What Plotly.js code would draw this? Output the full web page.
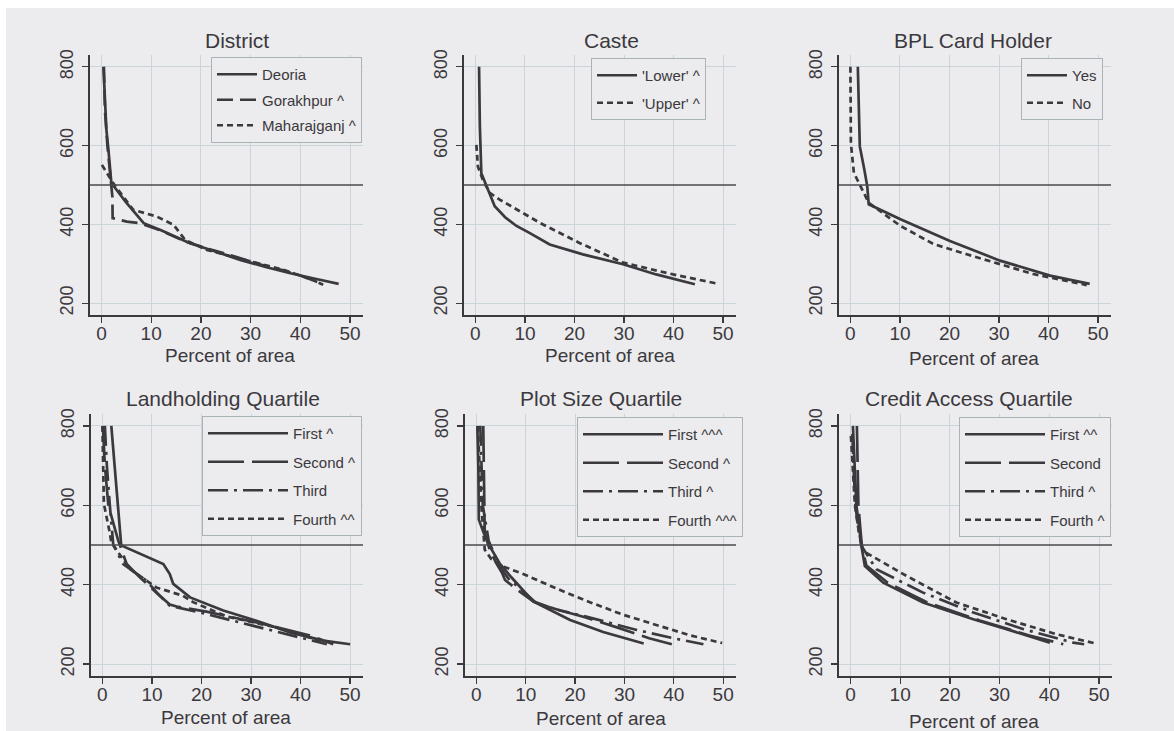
<!DOCTYPE html>
<html>
<head>
<meta charset="utf-8">
<script src="https://cdn.plot.ly/plotly-3.0.1.min.js"></script>
<style>html,body{margin:0;padding:0;background:#fff;}#chart{width:1174px;height:731px;}</style>
</head>
<body>
<div id="chart"></div>
<script>
// ---------------- DATA ----------------
const panelTitles = ["District", "Caste", "BPL Card Holder", "Landholding Quartile", "Plot Size Quartile", "Credit Access Quartile"];
const xAxisTitle = "Percent of area";
const xTicks = [0, 10, 20, 30, 40, 50];
const yTicks = [200, 400, 600, 800];
const refLineY = 500;

// District
const deoriaX = [0.4, 0.7, 1.0, 1.4, 2.0, 5.0, 8.5, 12, 17.8, 22, 27.9, 33, 38, 43, 47.7];
const deoriaY = [800, 700, 640, 590, 505, 455, 403, 385, 352, 335, 310, 292, 276, 262, 249];
const gorakhpurX = [0.5, 0.7, 1.2, 1.8, 2.2, 2.25, 5.1, 7.8, 12, 17, 22, 27, 32, 37, 41, 44.6];
const gorakhpurY = [800, 690, 600, 520, 470, 416, 407, 403, 384, 356, 336, 318, 298, 282, 266, 247];
const maharajganjX = [0.1, 2.4, 6.4, 11.1, 14.5, 16.8, 21.2, 27.9, 32, 36.6, 40, 44];
const maharajganjY = [551, 504, 437, 420, 399, 361, 335, 314, 300, 285, 270, 251];

// Caste
const lowerX = [0.74, 0.9, 1.2, 2.2, 3.9, 6, 8.3, 11, 15, 21.7, 29.8, 36.5, 44.3];
const lowerY = [800, 650, 530, 497, 446, 418, 396, 378, 349, 324, 299, 273, 248];
const upperX = [0.2, 0.5, 1.5, 2.9, 4.9, 9, 13, 21, 29.8, 39.9, 48.7];
const upperY = [602, 547, 513, 480, 463, 432, 404, 353, 303, 273, 250];

// BPL Card Holder
const bplYesX = [1.5, 1.7, 1.9, 2.8, 3.4, 3.7, 10.1, 20.1, 30.2, 40.3, 48.3];
const bplYesY = [800, 700, 598, 540, 497, 451, 413, 358, 308, 270, 249];
const bplNoX = [0.0, 0.05, 0.1, 0.7, 2.0, 3.7, 10.1, 16.8, 23.5, 30.2, 36.9, 47.7];
const bplNoY = [800, 700, 606, 531, 497, 455, 396, 350, 324, 299, 274, 246];

// Landholding Quartile
const land1X = [1.8, 2.5, 3.2, 3.8, 12.3, 13.6, 14.3, 17.7, 24.4, 31.1, 37.9, 44.6, 50];
const land1Y = [800, 700, 600, 499, 452, 427, 402, 368, 335, 309, 280, 259, 250];
const land2X = [0.1, 0.5, 1.2, 3.2, 4.9, 7.5, 10.9, 13.6, 15, 21, 31.8, 41.9, 46.6];
const land2Y = [800, 700, 600, 511, 452, 419, 380, 350, 345, 332, 303, 272, 250];
const land3X = [0.5, 0.9, 1.5, 2.2, 4.2, 7.0, 8.9, 11.6, 13.6, 19.7, 28.4, 39.9, 45.3];
const land3Y = [800, 700, 600, 500, 452, 428, 410, 372, 347, 330, 303, 268, 250];
const land4X = [0.0, 0.1, 0.3, 1.5, 1.8, 5.5, 10.9, 16.3, 18.3, 25.1, 35.2, 43.9, 44.6];
const land4Y = [800, 700, 604, 530, 507, 440, 393, 372, 356, 320, 292, 259, 250];

// Plot Size Quartile
const plot1X = [0.2, 0.4, 0.5, 1.5, 2.7, 4.7, 7.0, 11.5, 19, 25.7, 33.9];
const plot1Y = [800, 700, 564, 530, 497, 454, 420, 358, 311, 281, 252];
const plot2X = [1.4, 1.5, 1.7, 2.7, 4.0, 5.2, 5.8, 8, 11.5, 15.6, 22, 29.1, 35, 39.6];
const plot2Y = [800, 700, 530, 488, 455, 430, 412, 390, 358, 340, 318, 290, 265, 250];
const plot3X = [0.8, 1.0, 1.3, 2.5, 4.7, 6.8, 8.5, 12.2, 17, 22.4, 32.5, 40, 46];
const plot3Y = [800, 700, 600, 510, 446, 410, 395, 353, 335, 319, 286, 265, 250];
const plot4X = [0.3, 0.6, 1.0, 1.7, 3.0, 5.4, 9.5, 16.3, 23, 29.8, 36.6, 43.4, 49.8];
const plot4Y = [800, 700, 600, 488, 465, 446, 427, 390, 356, 324, 297, 272, 253];

// Credit Access Quartile
const cred1X = [0.5, 0.8, 1.2, 1.8, 2.2, 2.9, 6.6, 14.6, 24.7, 31.4, 40.1];
const cred1Y = [800, 700, 600, 540, 498, 447, 405, 355, 313, 288, 254];
const cred2X = [1.3, 1.4, 1.6, 2.0, 2.3, 3.2, 7.5, 15.5, 26, 36, 42.8];
const cred2Y = [800, 700, 600, 540, 498, 448, 405, 355, 310, 272, 250];
const cred3X = [0.4, 0.6, 1.0, 1.6, 2.2, 5.2, 14.6, 24.7, 34.8, 44.8, 47];
const cred3Y = [780, 700, 600, 540, 498, 439, 380, 330, 288, 254, 250];
const cred4X = [0.1, 0.4, 0.9, 1.6, 2.5, 11.3, 21.3, 31.4, 41.5, 48.9];
const cred4Y = [775, 700, 600, 540, 485, 422, 355, 313, 275, 253];

const seriesNames = [
  ["Deoria", "Gorakhpur ^", "Maharajganj ^"],
  ["'Lower' ^", "'Upper' ^"],
  ["Yes", "No"],
  ["First ^", "Second ^", "Third", "Fourth ^^"],
  ["First ^^^", "Second ^", "Third ^", "Fourth ^^^"],
  ["First ^^", "Second", "Third ^", "Fourth ^"]
];
const seriesData = [
  [[deoriaX, deoriaY], [gorakhpurX, gorakhpurY], [maharajganjX, maharajganjY]],
  [[lowerX, lowerY], [upperX, upperY]],
  [[bplYesX, bplYesY], [bplNoX, bplNoY]],
  [[land1X, land1Y], [land2X, land2Y], [land3X, land3Y], [land4X, land4Y]],
  [[plot1X, plot1Y], [plot2X, plot2Y], [plot3X, plot3Y], [plot4X, plot4Y]],
  [[cred1X, cred1Y], [cred2X, cred2Y], [cred3X, cred3Y], [cred4X, cred4Y]]
];

// ---------------- STYLE / LAYOUT ----------------
const W = 1174, H = 731;
const BG = '#ecebee';
const INK = '#3b393d';
const GRID = '#c9d5d9';
const FONT = 'Liberation Sans, Arial, sans-serif';
const dashSets = [
  ['solid', '16px,7px', '6px,4px'],
  ['solid', '6px,4px'],
  ['solid', '6px,4px'],
  ['solid', '36px,8px', '20px,6px,3px,6px', '6px,4px'],
  ['solid', '36px,8px', '20px,6px,3px,6px', '6px,4px'],
  ['solid', '36px,8px', '20px,6px,3px,6px', '6px,4px']
];
// pixel boxes of plot areas [left, right, top, bottom]
const boxes = [
  [90, 363, 55, 315], [464, 736, 55, 315], [839, 1111, 55, 315],
  [91, 363, 414, 676], [465, 736, 414, 676], [839, 1112, 414, 676]
];
const titleX = [236.7, 611.7, 973.3, 222.7, 600.7, 969];
const titleY = [40, 40, 40, 399, 399, 399];
const axTitleX = [230, 610, 974, 226, 601, 974];
const axTitleY = [355, 356, 358, 717, 718, 721];
// legend boxes: [right, top, itemwidth, gap]
const legendPos = [
  [362, 57, 40, 3], [706, 58, 40, 5], [1103, 58, 40, 5],
  [362, 416, 80, 6], [743, 417, 80, 6], [1111, 417, 80, 6]
];

const traces = [];
const layout = {
  width: W, height: H,
  margin: {l: 0, r: 0, t: 0, b: 0},
  paper_bgcolor: '#ffffff',
  plot_bgcolor: 'rgba(0,0,0,0)',
  font: {family: FONT, color: INK},
  showlegend: true,
  shapes: [{
    type: 'rect', xref: 'paper', yref: 'paper',
    x0: 6 / W, x1: 1, y0: 0, y1: 1 - 8 / H,
    fillcolor: BG, line: {width: 0}, layer: 'below'
  }],
  annotations: []
};

for (let p = 0; p < 6; p++) {
  const sfx = p === 0 ? '' : String(p + 1);
  const b = boxes[p];
  const legName = 'legend' + sfx;
  seriesData[p].forEach((s, k) => {
    traces.push({
      type: 'scatter', mode: 'lines',
      x: s[0], y: s[1],
      name: seriesNames[p][k],
      xaxis: 'x' + sfx, yaxis: 'y' + sfx,
      legend: legName,
      legendgroup: 'g' + p + '_' + k,
      line: {color: INK, width: 2.7, dash: dashSets[p][k]},
      hoverinfo: 'skip'
    });
  });
  layout['xaxis' + sfx] = {
    domain: [b[0] / W, b[1] / W],
    anchor: 'y' + sfx,
    range: [-2.3, 52.6],
    tickvals: xTicks, ticktext: xTicks.map(String),
    ticks: 'outside', ticklen: 6, tickwidth: 1.3, tickcolor: INK,
    ticklabelstandoff: -5,
    showline: true, linecolor: INK, linewidth: 1.6,
    showgrid: true, gridcolor: GRID, gridwidth: 1,
    zeroline: false,
    tickfont: {family: FONT, size: 19, color: INK}
  };
  layout['yaxis' + sfx] = {
    domain: [1 - b[3] / H, 1 - b[2] / H],
    anchor: 'x' + sfx,
    range: [170, 830],
    tickvals: yTicks, ticktext: yTicks.map(String),
    tickangle: -90,
    ticks: 'outside', ticklen: 6, tickwidth: 1.3, tickcolor: INK,
    ticklabelstandoff: 2,
    showline: true, linecolor: INK, linewidth: 1.6,
    showgrid: true, gridcolor: GRID, gridwidth: 1,
    zeroline: false,
    tickfont: {family: FONT, size: 18, color: INK}
  };
  const lp = legendPos[p];
  layout[legName] = {
    x: lp[0] / W, y: 1 - lp[1] / H, xanchor: 'right', yanchor: 'top',
    bgcolor: BG, bordercolor: '#aab4b8', borderwidth: 1,
    font: {family: FONT, size: 15, color: INK},
    itemwidth: lp[2], tracegroupgap: lp[3],
    traceorder: 'grouped', itemclick: false, itemdoubleclick: false
  };
  layout.shapes.push({
    type: 'line', xref: 'x' + sfx + ' domain', yref: 'y' + sfx,
    x0: 0, x1: 1, y0: refLineY, y1: refLineY,
    line: {color: '#4a484c', width: 1.6}
  });
  layout.annotations.push({
    text: panelTitles[p], xref: 'paper', yref: 'paper',
    x: titleX[p] / W, y: 1 - titleY[p] / H, xanchor: 'center', yanchor: 'middle',
    showarrow: false, font: {family: FONT, size: 21, color: INK}
  });
  layout.annotations.push({
    text: xAxisTitle, xref: 'paper', yref: 'paper',
    x: axTitleX[p] / W, y: 1 - axTitleY[p] / H, xanchor: 'center', yanchor: 'middle',
    showarrow: false, font: {family: FONT, size: 19, color: INK}
  });
}

Plotly.newPlot('chart', traces, layout, {displayModeBar: false, staticPlot: true});
</script>
</body>
</html>
